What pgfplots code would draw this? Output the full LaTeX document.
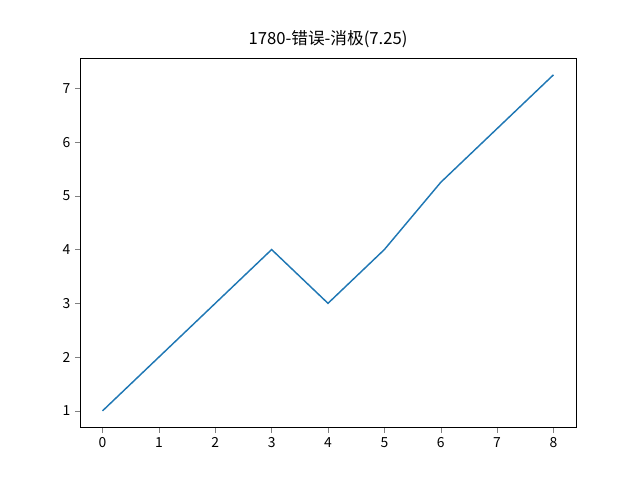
\documentclass[border=0pt]{standalone}
\usepackage{pgfplots}
\pgfplotsset{compat=1.18}
\usepackage{fontspec}
\setmainfont{Noto Sans CJK SC}
\begin{document}
\begin{tikzpicture}
\begin{axis}[
  name=ax, scale only axis, width=357.12pt, height=266.1pt,
  xmin=-0.4, xmax=8.4, ymin=0.6875, ymax=7.5625,
  xtick={0,...,8}, ytick={1,...,7},
  tick align=outside, tick pos=left,
  major tick length=3.5pt,
  ticklabel style={font=\fontsize{10}{12}\selectfont},
  /pgf/number format/assume math mode=true,
  title={1780-错误-消极(7.25)},
  title style={font=\fontsize{12}{14}\selectfont, yshift=-2pt},
]
\addplot[color={rgb,255:red,31;green,119;blue,180}, line width=1.05pt] coordinates {
(0,1) (1,2) (2,3) (3,4) (4,3) (5,4) (6,5.25) (7,6.25) (8,7.25)};
\end{axis}
\useasboundingbox ([shift={(-57.6pt,-37.7pt)}]ax.south west) rectangle ([shift={(403.2pt,307.9pt)}]ax.south west);
\end{tikzpicture}
\end{document}
